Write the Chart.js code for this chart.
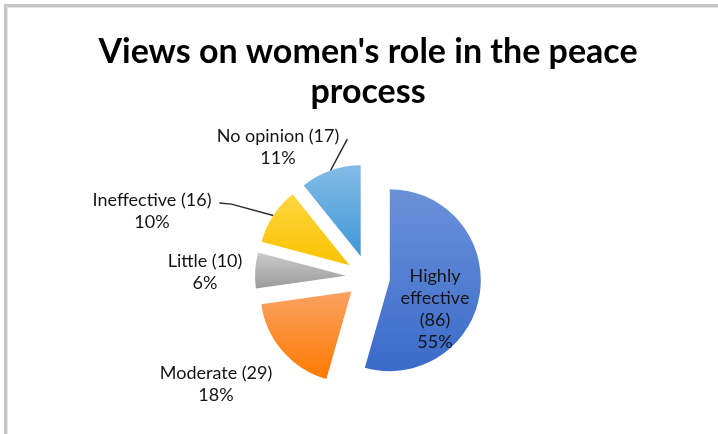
<!DOCTYPE html>
<html>
<head>
<meta charset="utf-8">
<title>Views on women's role in the peace process</title>
<script src="https://cdn.jsdelivr.net/npm/chart.js@4.4.1/dist/chart.umd.min.js"></script>
<style>
  html, body { margin: 0; padding: 0; background: #fff; }
  canvas { display: block; }
</style>
</head>
<body>
<canvas id="pie-chart" width="718" height="434"></canvas>
<script>
var categories = ['Highly effective', 'Moderate', 'Little', 'Ineffective', 'No opinion'];
var counts = [86, 29, 10, 16, 17];
var percentLabels = ['55%', '18%', '6%', '10%', '11%'];

// each slice is filled with a vertical gradient, light at the top
var topColors = ['#6b91d9', '#f9a262', '#cbcbcb', '#ffd640', '#84bbe6'];
var bottomColors = ['#3a6bca', '#ff7a00', '#9a9a9a', '#f9c200', '#3d98d8'];

var EXPLODE = 22;   // distance every slice is pulled away from the centre
var RADIUS = 91;
var LINE_GAP = 22;

// where each label block sits, relative to the pie centre
var labelSpots = [
  { dx: 67, dy: 32, inside: true },
  { dx: -152, dy: 107 },
  { dx: -163, dy: -5 },
  { dx: -216, dy: -66, leader: 'elbow' },
  { dx: -90, dy: -130, leader: 'straight' }
];

function labelLines(i) {
  if (labelSpots[i].inside) {
    return categories[i].split(' ').concat(['(' + counts[i] + ')', percentLabels[i]]);
  }
  return [categories[i] + ' (' + counts[i] + ')', percentLabels[i]];
}

// vertical extent of slice i around the (unexploded) centre
function sliceExtent(i, cy) {
  var total = counts.reduce(function(a, b) { return a + b; }, 0);
  var start = -Math.PI / 2;
  for (var j = 0; j < i; j++) start += 2 * Math.PI * counts[j] / total;
  var end = start + 2 * Math.PI * counts[i] / total;
  var mid = (start + end) / 2;
  var vy = cy + Math.sin(mid) * EXPLODE;
  var ys = [vy, vy + Math.sin(start) * RADIUS, vy + Math.sin(end) * RADIUS];
  [-Math.PI / 2, Math.PI / 2, 3 * Math.PI / 2].forEach(function(a) {
    if (a >= start && a <= end) ys.push(vy + Math.sin(a) * RADIUS);
  });
  return {
    top: Math.min.apply(null, ys) - Math.sin(mid) * EXPLODE,
    bottom: Math.max.apply(null, ys) - Math.sin(mid) * EXPLODE
  };
}

var framePlugin = {
  id: 'frame',
  beforeDraw: function(chart) {
    var ctx = chart.ctx;
    ctx.save();
    ctx.fillStyle = '#fff';
    ctx.fillRect(0, 0, chart.width, chart.height);
    ctx.fillStyle = '#c6c6c6';
    ctx.fillRect(4, 4, chart.width - 4, 3);
    ctx.fillRect(4, 4, 3, chart.height - 4);
    ctx.fillStyle = '#e8e8e8';
    ctx.fillRect(7, 7, chart.width - 7, 1);
    ctx.fillRect(7, 7, 1, chart.height - 7);
    ctx.restore();
  }
};

// draw the arcs ourselves so every slice can be pulled out by the same distance
var explodePlugin = {
  id: 'explode',
  beforeDatasetDraw: function(chart, args) {
    var ctx = chart.ctx;
    args.meta.data.forEach(function(arc) {
      var mid = (arc.startAngle + arc.endAngle) / 2;
      ctx.save();
      ctx.translate(Math.cos(mid) * EXPLODE, Math.sin(mid) * EXPLODE);
      arc.draw(ctx);
      ctx.restore();
    });
    return false;
  }
};

var labelPlugin = {
  id: 'sliceLabels',
  afterDatasetsDraw: function(chart) {
    var ctx = chart.ctx;
    var arcs = chart.getDatasetMeta(0).data;
    ctx.save();
    ctx.font = '18px Lato';
    ctx.fillStyle = '#141414';
    ctx.strokeStyle = '#2a2a2a';
    ctx.lineWidth = 1.5;
    ctx.textAlign = 'center';
    ctx.textBaseline = 'middle';
    arcs.forEach(function(arc, i) {
      var spot = labelSpots[i];
      var lines = labelLines(i);
      var x = arc.x + spot.dx;
      var top = arc.y + spot.dy - (lines.length - 1) * LINE_GAP / 2;
      lines.forEach(function(t, k) {
        ctx.fillText(t, x, top + k * LINE_GAP);
      });
      if (spot.leader) {
        var mid = (arc.startAngle + arc.endAngle) / 2;
        var ex = arc.x + Math.cos(mid) * (EXPLODE + arc.outerRadius);
        var ey = arc.y + Math.sin(mid) * (EXPLODE + arc.outerRadius);
        var sx = x + ctx.measureText(lines[0]).width / 2 + 8;
        var sy = top + 3;
        ctx.beginPath();
        ctx.moveTo(sx, sy);
        if (spot.leader === 'elbow') ctx.lineTo(sx + 12, sy + 1);
        ctx.lineTo(ex, ey);
        ctx.stroke();
      }
    });
    ctx.restore();
  }
};

new Chart(document.getElementById('pie-chart'), {
  type: 'pie',
  data: {
    labels: categories,
    datasets: [{
      data: counts,
      borderWidth: 0,
      backgroundColor: function(context) {
        var i = context.dataIndex;
        var area = context.chart.chartArea;
        if (!area || i === undefined) return topColors[i] || topColors[0];
        var cy = (area.top + area.bottom) / 2;
        var ext = sliceExtent(i, cy);
        var g = context.chart.ctx.createLinearGradient(0, ext.top, 0, ext.bottom);
        g.addColorStop(0, topColors[i]);
        g.addColorStop(1, bottomColors[i]);
        return g;
      }
    }]
  },
  options: {
    responsive: false,
    animation: false,
    radius: RADIUS,
    layout: { padding: { left: 18, right: 0, top: 0, bottom: 0 } },
    plugins: {
      legend: { display: false },
      tooltip: { enabled: false },
      title: {
        display: true,
        text: ["Views on women's role in the peace", 'process'],
        color: '#000',
        font: { family: 'Lato', size: 34, weight: 'bold', lineHeight: 1.18 },
        padding: { top: 32, bottom: 8 }
      }
    }
  },
  plugins: [framePlugin, explodePlugin, labelPlugin]
});
</script>
</body>
</html>
